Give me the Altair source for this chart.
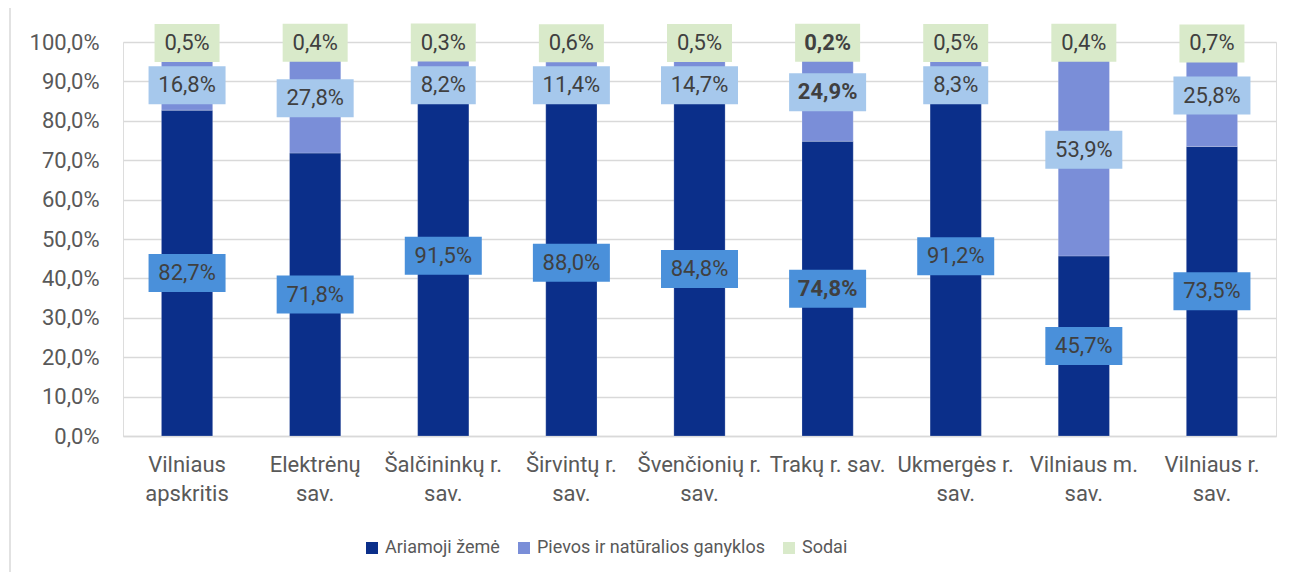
import altair as alt
import pandas as pd

categories = ["Vilniaus\napskritis", "Elektrėnų\nsav.", "Šalčininkų r.\nsav.", "Širvintų r.\nsav.",
              "Švenčionių r.\nsav.", "Trakų r. sav.", "Ukmergės r.\nsav.", "Vilniaus m.\nsav.", "Vilniaus r.\nsav."]
series = ["Ariamoji žemė", "Pievos ir natūralios ganyklos", "Sodai"]
ariamoji = [82.7, 71.8, 91.5, 88.0, 84.8, 74.8, 91.2, 45.7, 73.5]
pievos = [16.8, 27.8, 8.2, 11.4, 14.7, 24.9, 8.3, 53.9, 25.8]
sodai = [0.5, 0.4, 0.3, 0.6, 0.5, 0.2, 0.5, 0.4, 0.7]
y_ticks = [0, 10, 20, 30, 40, 50, 60, 70, 80, 90, 100]
bold_category = "Trakų r. sav."

bar_colors = ["#0B2F8A", "#7A8ED8", "#D9EACA"]
box_colors = ["#4A90DA", "#A6C8EC", "#D9EACA"]

rows = []
for i, c in enumerate(categories):
    a, p, s = ariamoji[i], pievos[i], sodai[i]
    segs = [(series[0], a, 0.0, a), (series[1], p, a, a + p), (series[2], s, a + p, a + p + s)]
    for name, v, y0, y1 in segs:
        mid = (y0 + y1) / 2
        if name == series[1]:
            mid = min(mid, 89.0)
        txt = f"{v:.1f}".replace(".", ",") + "%"
        rows.append({"cat": c, "series": name, "y0": y0, "y1": y1, "ly": mid,
                     "txt": txt, "w": "long" if len(txt) >= 5 else "short",
                     "bold": c == bold_category})
df = pd.DataFrame(rows)

FONT = "Roboto"
TXT = "#404040"

x_scale = alt.Scale(paddingInner=0.6, paddingOuter=0.3)
x_axis = alt.Axis(labelExpr="split(datum.label, '\\n')", labelAngle=0, labelFontSize=22,
                  labelColor="#595959", labelFont=FONT, labelLineHeight=29,
                  labelPadding=18, labelBaseline="top", ticks=False,
                  domainColor="#D9D9D9", domainWidth=1.3, labelLimit=300)
y_scale = alt.Scale(domain=[0, 100], nice=False)
y_axis = alt.Axis(values=y_ticks, tickCount=len(y_ticks), labelOverlap=False,
                  labelExpr="replace(format(datum.value, '.1f'), '.', ',') + '%'",
                  labelFontSize=22, labelColor="#595959", labelFont=FONT,
                  labelPadding=24, ticks=False, domain=False,
                  gridColor="#D9D9D9", gridWidth=1.3)


def X():
    return alt.X("cat:N", sort=categories, title=None, scale=x_scale, axis=x_axis)


def Y(field):
    return alt.Y(field, title=None, scale=y_scale, axis=y_axis)


bars = alt.Chart(df).mark_bar(stroke="#ffffff", strokeWidth=0.6, strokeOpacity=0.35).encode(
    x=X(),
    y=Y("y0:Q"),
    y2="y1:Q",
    color=alt.Color("series:N", scale=alt.Scale(domain=series, range=bar_colors),
                    sort=series,
                    legend=alt.Legend(title=None, orient="none", direction="horizontal",
                                      legendX=240, legendY=497, symbolType="square",
                                      symbolSize=144, symbolStrokeWidth=0, labelFontSize=18,
                                      labelFont=FONT, labelColor="#595959", columnPadding=15,
                                      labelOffset=4, labelLimit=500)),
)

r = 38.5
def box(hw, hh):
    a, b = hw / r, hh / r
    return f"M{-a},{-b}L{a},{-b}L{a},{b}L{-a},{b}Z"

boxes = alt.Chart(df).mark_point(filled=True, opacity=1, strokeWidth=0, size=r * r * 4).encode(
    x=X(),
    y=Y("ly:Q"),
    fill=alt.Fill("series:N", scale=alt.Scale(domain=series, range=box_colors), legend=None),
    shape=alt.Shape("w:N", scale=alt.Scale(domain=["short", "long"],
                                           range=[box(32.5, 19), box(38.5, 19)]), legend=None),
)

texts_normal = alt.Chart(df).transform_filter("!datum.bold").mark_text(
    font=FONT, fontSize=22, color=TXT, baseline="middle", align="center").encode(
    x=X(), y=Y("ly:Q"), text="txt:N")
texts_bold = alt.Chart(df).transform_filter("datum.bold").mark_text(
    font=FONT, fontSize=22, color=TXT, baseline="middle", align="center", fontWeight="bold").encode(
    x=X(), y=Y("ly:Q"), text="txt:N")

frame = alt.Chart(pd.DataFrame({"a": [0]})).mark_rule(color="#D9D9D9", strokeWidth=1.5).encode(
    x=alt.value(-113), y=alt.value(-34), y2=alt.value(540))

chart = alt.layer(bars, boxes, texts_normal, texts_bold, frame).properties(
    width=1153, height=394,
    autosize=alt.AutoSizeParams(type="none"),
    padding={"left": 115, "top": 34, "right": 12, "bottom": 136},
).configure_view(stroke=None).configure(background="white")

chart.save("out.html", embed_options={"renderer": "svg", "actions": False})
